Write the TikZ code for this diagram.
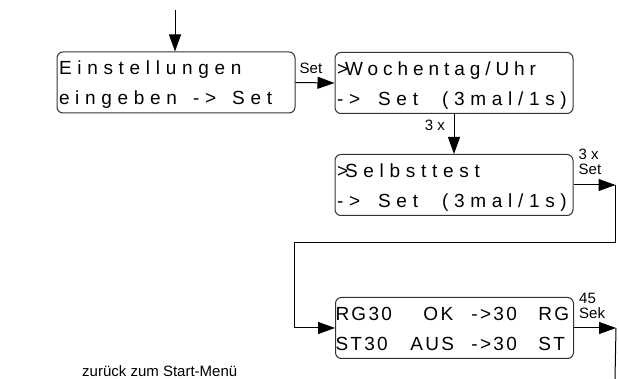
\documentclass[tikz,border=0pt]{standalone}
\usepackage{fontspec}
\setmainfont{Liberation Sans}
\newfontfamily\lcdfont[LetterSpace=30]{Liberation Sans}
\usetikzlibrary{arrows.meta,positioning}
\newcommand\lcdstrut{\rule[-3pt]{0pt}{21pt}}
\tikzset{
  lcd/.style={draw=black!80,line width=1pt,rounded corners=6pt,minimum width=238pt,minimum height=61pt,
    inner xsep=2pt,inner ysep=0pt,align=left,text width=234pt,font=\lcdfont\fontsize{19}{30}\selectfont,
    execute at begin node=\lcdstrut,execute at end node=\lcdstrut},
  lbl/.style={font=\fontsize{15}{15}\selectfont,inner sep=0pt,align=left},
  arr/.style={-{Triangle[length=17pt,width=12pt]},line width=1pt},
}
\begin{document}
\begin{tikzpicture}[x=1pt,y=-1pt]
\useasboundingbox (0,0) rectangle (619,379);
% the four display screens
\node[lcd] (einst) at (176,82.5) {Einstellungen\\eingeben\hspace{16pt}->\hspace{16pt}Set};
\node[lcd] (uhr) at (454,83)
  {{\addfontfeature{LetterSpace=26}>\kern-3pt Wochentag/Uhr}\\->\hspace{18pt}Set\hspace{24pt}(3mal/1s)};
\node[lcd] (test) at (454,185) {>\kern-3pt Selbsttest\\->\hspace{18pt}Set\hspace{24pt}(3mal/1s)};
\node[lcd,inner xsep=0pt,text width=238pt,font=\lcdfont\addfontfeature{LetterSpace=12}\fontsize{19}{30}\selectfont] (rg) at (454.5,328)
  {\makebox[88pt][l]{RG30}\makebox[48pt][l]{OK}\makebox[67pt][l]{->30}RG\\
   \makebox[75pt][l]{ST30}\makebox[61pt][l]{AUS}\makebox[67pt][l]{->30}ST};
% free ends of the connectors
\coordinate (in) at (175,10);
\coordinate (c1) at ([xshift=42pt]test.east);
\coordinate (c2) at (294,243);
\coordinate (c3) at ([xshift=42pt]rg.east);
\coordinate (c4) at (615,379);
\draw[arr] (in) -- (in |- einst.north);
\draw[arr] (einst.east) -- (uhr.west);
\draw[arr] (uhr) -- (test);
\draw[arr] (test.east) -- (c1);
\draw[arr] (c1) |- (c2) |- (rg.west);
\draw[arr] (rg.east) -- (c3);
\draw[line width=1pt] (c3) -- (c4);
% labels
\node[lbl,anchor=south west] (lset) at ([xshift=4pt,yshift=9pt]einst.east) {Set};
\node[lbl,anchor=east] (ldrei) at ([xshift=-9pt,yshift=-11pt]uhr.south) {3 x};
\node[lbl,anchor=south west] (ldreiset) at ([xshift=5pt,yshift=10pt]test.east) {3 x\\Set};
\node[lbl,anchor=south west] (lsek) at ([xshift=5pt,yshift=9pt]rg.east) {45\\Sek};
\node[lbl,anchor=base west] (back) at (82,377) {zurück zum Start-Menü};
\end{tikzpicture}
\end{document}
